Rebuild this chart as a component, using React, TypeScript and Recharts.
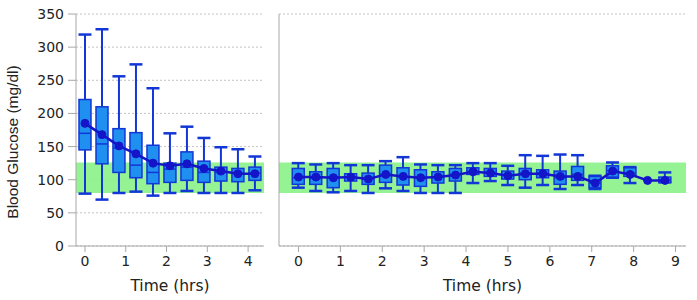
import React from 'react';
import { ComposedChart, Bar, Line, XAxis, YAxis, CartesianGrid, ReferenceArea } from 'recharts';

// ---- data ----
const yTicks = [0, 50, 100, 150, 200, 250, 300, 350];
const leftXTicks = [0, 1, 2, 3, 4];
const rightXTicks = [0, 1, 2, 3, 4, 5, 6, 7, 8, 9];
const targetLow = 80;
const targetHigh = 126;

const leftTime = [0, 0.417, 0.833, 1.25, 1.667, 2.083, 2.5, 2.917, 3.333, 3.75, 4.167];
const leftMin = [79, 70, 80, 82, 76, 80, 83, 80, 80, 80, 84];
const leftQ1 = [145, 124, 111, 103, 94, 96, 99, 96, 98, 97, 99];
const leftMedian = [170, 154, 148, 122, 111, 116, 119, 111, 111, 110, 110];
const leftQ3 = [221, 210, 177, 171, 152, 125, 142, 128, 119, 117, 119];
const leftMax = [319, 327, 256, 274, 238, 170, 180, 163, 149, 146, 135];
const leftMean = [185, 168, 151, 139, 125, 121, 124, 117, 113, 109, 109];

const rightTime = [0, 0.417, 0.833, 1.25, 1.667, 2.083, 2.5, 2.917, 3.333, 3.75, 4.167, 4.583, 5, 5.417, 5.833, 6.25, 6.667, 7.083, 7.5, 7.917, 8.333, 8.75];
const rightMin = [88, 83, 81, 83, 80, 87, 83, 80, 80, 80, 95, 98, 92, 88, 92, 86, 92, 86, 103, 95, 100, 96];
const rightQ1 = [93, 93, 88, 98, 93, 96, 92, 90, 95, 98, 108, 105, 101, 100, 103, 93, 99, 88, 104, 105, 100, 96];
const rightMedian = [103, 102, 104, 104, 101, 108, 104, 103, 104, 108, 113, 111, 107, 110, 110, 103, 108, 95, 114, 110, 100, 100];
const rightQ3 = [117, 112, 117, 109, 110, 122, 118, 115, 112, 117, 118, 117, 113, 117, 115, 113, 120, 105, 121, 118, 100, 104];
const rightMax = [125, 123, 125, 122, 122, 128, 134, 123, 122, 122, 125, 125, 121, 137, 136, 138, 137, 106, 126, 119, 100, 111];
const rightMean = [104, 104, 103, 104, 101, 108, 105, 103, 104, 107, 112, 110, 106, 109, 109, 105, 105, 95, 113, 108, 99, 99];

function buildRows(time: number[], min: number[], q1: number[], med: number[], q3: number[], max: number[], mean: number[]) {
  return time.map((t, i) => ({
    t,
    range: [min[i], max[i]],
    min: min[i],
    q1: q1[i],
    median: med[i],
    q3: q3[i],
    max: max[i],
    mean: mean[i],
  }));
}

const leftRows = buildRows(leftTime, leftMin, leftQ1, leftMedian, leftQ3, leftMax, leftMean);
const rightRows = buildRows(rightTime, rightMin, rightQ1, rightMedian, rightQ3, rightMax, rightMean);

// ---- styles ----
const BOX_FILL = '#1f8ff0';
const BOX_STROKE = '#1237d6';
const MEAN_COLOR = '#1414c8';
const GREEN = '#8cf28a';
const AXIS_COLOR = '#a8a8a8';
const GRID_COLOR = '#c4c4c4';
const TICK_STYLE = { fill: '#222', fontSize: 14, fontFamily: 'DejaVu Sans' };

function BoxShape(props: any) {
  const { x, y, width, height, payload } = props;
  if (!payload || payload.max === payload.min) return <g />;
  const top = Math.min(y, y + height);
  const h = Math.abs(height);
  const span = payload.max - payload.min;
  const py = (v: number) => top + (h * (payload.max - v)) / span;
  const cx = x + width / 2;
  const bw = 12;
  const cw = 13;
  const yMax = py(payload.max);
  const yQ3 = py(payload.q3);
  const yMed = py(payload.median);
  const yQ1 = py(payload.q1);
  const yMin = py(payload.min);
  return (
    <g>
      <line x1={cx} x2={cx} y1={yMax} y2={yQ3} stroke={BOX_STROKE} strokeWidth={2} />
      <line x1={cx} x2={cx} y1={yQ1} y2={yMin} stroke={BOX_STROKE} strokeWidth={2} />
      <line x1={cx - cw / 2} x2={cx + cw / 2} y1={yMax} y2={yMax} stroke={BOX_STROKE} strokeWidth={2.5} />
      <line x1={cx - cw / 2} x2={cx + cw / 2} y1={yMin} y2={yMin} stroke={BOX_STROKE} strokeWidth={2.5} />
      <rect x={cx - bw / 2} y={yQ3} width={bw} height={Math.max(yQ1 - yQ3, 1)} fill={BOX_FILL} stroke={BOX_STROKE} strokeWidth={1.5} />
      <line x1={cx - bw / 2} x2={cx + bw / 2} y1={yMed} y2={yMed} stroke={BOX_STROKE} strokeWidth={1.5} />
    </g>
  );
}

function Panel(props: {
  rows: any[];
  width: number;
  domain: [number, number];
  xTicks: number[];
  yAxisWidth: number;
  showYTicks: boolean;
  marginRight: number;
}) {
  const { rows, width, domain, xTicks, yAxisWidth, showYTicks, marginRight } = props;
  return (
    <ComposedChart width={width} height={300} data={rows} margin={{ top: 14, right: marginRight, bottom: 0, left: 0 }}>
      <CartesianGrid horizontal vertical={false} stroke={GRID_COLOR} strokeDasharray="2 2" />
      <ReferenceArea y1={targetLow} y2={targetHigh} fill={GREEN} fillOpacity={0.92} stroke="none" />
      <XAxis
        dataKey="t"
        type="number"
        domain={domain}
        ticks={xTicks}
        allowDataOverflow
        height={54}
        stroke={AXIS_COLOR}
        tickSize={6}
        tickMargin={4}
        tick={TICK_STYLE}
        label={{ value: 'Time (hrs)', position: 'insideBottom', offset: 9, fill: '#222', fontSize: 15.5, fontFamily: 'DejaVu Sans' }}
      />
      <YAxis
        type="number"
        domain={[0, 350]}
        ticks={yTicks}
        width={yAxisWidth}
        stroke={AXIS_COLOR}
        tick={showYTicks ? TICK_STYLE : false}
        tickLine={showYTicks}
        tickSize={8}
        tickMargin={4}
        allowDataOverflow
      />
      <Bar dataKey="range" barSize={13} shape={<BoxShape />} isAnimationActive={false} />
      <Line
        dataKey="mean"
        type="linear"
        stroke={MEAN_COLOR}
        strokeWidth={2.5}
        dot={{ r: 4, fill: MEAN_COLOR, stroke: MEAN_COLOR, strokeWidth: 1 }}
        activeDot={false}
        isAnimationActive={false}
      />
    </ComposedChart>
  );
}

export default function App() {
  return (
    <div style={{ position: 'absolute', left: 0, top: 0, width: 697, height: 300, background: '#fff', overflow: 'hidden' }}>
      <div style={{ position: 'absolute', left: 0, top: 0 }}>
        <Panel rows={leftRows} width={280} domain={[-0.22, 4.39]} xTicks={leftXTicks} yAxisWidth={76} showYTicks marginRight={16} />
      </div>
      <div style={{ position: 'absolute', left: 270, top: 0 }}>
        <Panel rows={rightRows} width={427} domain={[-0.465, 9.25]} xTicks={rightXTicks} yAxisWidth={9} showYTicks={false} marginRight={11} />
      </div>
      <svg width={30} height={300} style={{ position: 'absolute', left: 0, top: 0 }}>
        <text
          x={12}
          y={142}
          transform="rotate(-90 12 142)"
          textAnchor="middle"
          dominantBaseline="central"
          fill="#222"
          fontSize={15.5}
          fontFamily="Liberation Sans"
        >
          Blood Glucose (mg/dl)
        </text>
      </svg>
    </div>
  );
}
